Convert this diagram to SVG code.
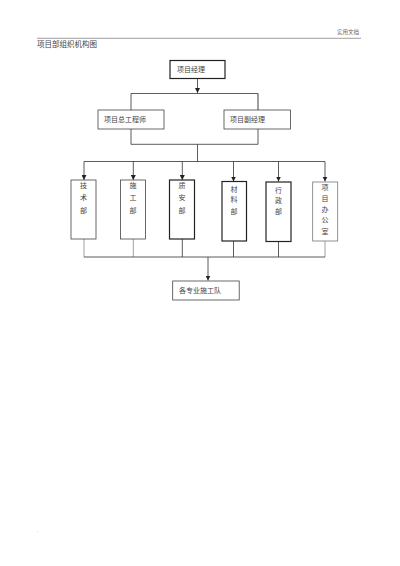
<svg xmlns="http://www.w3.org/2000/svg" width="400" height="566" viewBox="0 0 400 566">
<defs>
<marker id="ah" viewBox="0 0 6 6" refX="6" refY="3" markerWidth="5" markerHeight="5" orient="auto" markerUnits="userSpaceOnUse">
<path d="M0,0 L6,3 L0,6 Z" fill="#222"/>
</marker>
<style>
text{font-family:"Liberation Serif","Noto Sans CJK SC",serif;fill:#444;}
.t{font-size:7px;}
.b{fill:#fff;stroke:#444;stroke-width:0.8;}
.bb{fill:#fff;stroke:#222;stroke-width:1.2;}
.bg{fill:#fff;stroke:#777;stroke-width:0.8;}
.c{fill:none;stroke:#333;stroke-width:0.8;}
.cg{fill:none;stroke:#888;stroke-width:0.8;}
.v{font-size:7px;text-anchor:middle;}
</style>
</defs>
<rect width="400" height="566" fill="#fff"/>
<text x="359" y="34" style="font-size:5.5px;fill:#666" text-anchor="end">实用文档</text>
<line x1="37" y1="38.3" x2="361" y2="38.3" stroke="#888" stroke-width="0.8"/>
<text x="37" y="47" style="font-size:7.5px">项目部组织机构图</text>

<g id="connectors">
<path class="c" d="M197.5,78.5 V93" marker-end="url(#ah)"/>
<path class="c" d="M131,110 V93.5 H258 V110"/>
<path class="cg" d="M258,110 V93.5"/>
<path class="c" d="M131,129 V144.3 H258 V129"/>
<path class="c" d="M197.5,144.3 V161.5"/>
<path class="c" d="M84,161.5 H325"/>
<path class="c" d="M84,161.5 V180" marker-end="url(#ah)"/>
<path class="c" d="M133.3,161.5 V180" marker-end="url(#ah)"/>
<path class="c" d="M182.3,161.5 V180" marker-end="url(#ah)"/>
<path class="c" d="M233.5,161.5 V181.5" marker-end="url(#ah)"/>
<path class="c" d="M278.5,161.5 V181.5" marker-end="url(#ah)"/>
<path class="c" d="M325,161.5 V181.5" marker-end="url(#ah)"/>
<path class="cg" d="M84,239 V257"/>
<path class="cg" d="M133.3,239 V257"/>
<path class="c" d="M182.3,239 V257"/>
<path class="c" d="M233.5,241 V257"/>
<path class="c" d="M278.5,241 V257"/>
<path class="cg" d="M325,241 V257"/>
<path class="c" d="M84,257 H325"/>
<path class="c" d="M208,257 V280.5" marker-end="url(#ah)"/>
</g>

<g id="n-pm"><rect class="bb" x="170" y="60.5" width="55" height="18"/><text class="t" x="177" y="72">项目经理</text></g>
<g id="n-ce"><rect class="b" x="98" y="110" width="66" height="19"/><text class="t" x="104" y="122">项目总工程师</text></g>
<g id="n-dpm"><rect class="b" x="224" y="110" width="66.5" height="19"/><text class="t" x="230" y="122">项目副经理</text></g>

<g id="n-tech"><rect class="b" x="71" y="180" width="25" height="59"/>
<text class="v" x="83.5" y="187.5">技</text><text class="v" x="83.5" y="199.5">术</text><text class="v" x="83.5" y="212.5">部</text></g>
<g id="n-cons"><rect class="b" x="120.5" y="180" width="25" height="59"/>
<text class="v" x="133" y="187.5">施</text><text class="v" x="133" y="199.5">工</text><text class="v" x="133" y="212.5">部</text></g>
<g id="n-qs"><rect class="bb" x="169.5" y="180" width="25" height="59"/>
<text class="v" x="182" y="187.5">质</text><text class="v" x="182" y="199.5">安</text><text class="v" x="182" y="212.5">部</text></g>
<g id="n-mat"><rect class="bb" x="222" y="181.5" width="24.5" height="59.5"/>
<text class="v" x="234" y="191.5">材</text><text class="v" x="234" y="201.5">料</text><text class="v" x="234" y="214">部</text></g>
<g id="n-adm"><rect class="bb" x="266" y="182" width="25" height="59.5"/>
<text class="v" x="278.5" y="193">行</text><text class="v" x="278.5" y="203">政</text><text class="v" x="278.5" y="214">部</text></g>
<g id="n-off"><rect class="bg" x="312.7" y="182" width="25" height="59"/>
<text class="v" x="325" y="190">项</text><text class="v" x="325" y="200.5">目</text><text class="v" x="325" y="211.5">办</text><text class="v" x="325" y="221.5">公</text><text class="v" x="325" y="233.5">室</text></g>

<g id="n-team"><rect class="b" x="172.7" y="281" width="66.5" height="19"/><text class="t" x="179" y="293">各专业施工队</text></g>

<text x="37" y="532" style="font-size:5px;fill:#888">.</text>
</svg>
